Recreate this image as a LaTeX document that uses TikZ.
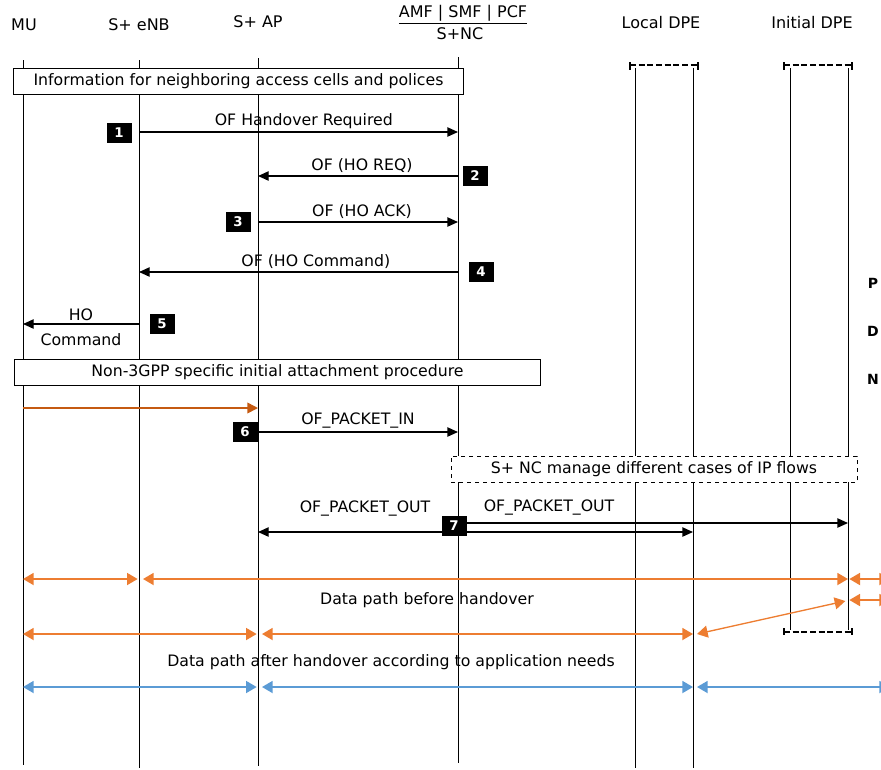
\documentclass[tikz,border=0pt]{standalone}
\usepackage{fontspec}
\setmainfont{DejaVu Sans}
\usetikzlibrary{arrows.meta,positioning}
\definecolor{dataorange}{RGB}{237,125,49}
\definecolor{attachorange}{RGB}{197,90,17}
\definecolor{datablue}{RGB}{91,155,213}

\begin{document}
\begin{tikzpicture}[x=0.75pt,y=-0.75pt,
  every node/.style={font=\fontsize{11.8}{13}\selectfont,inner sep=2pt},
  head/.style={font=\fontsize{12}{14}\selectfont},
  life/.style={black,line width=0.75pt},
  msg/.style={black,line width=1pt,-{Triangle[length=8pt,width=7pt]}},
  msgboth/.style={msg,{Triangle[length=8pt,width=7pt]}-{Triangle[length=8pt,width=7pt]}},
  stepnum/.style={fill=black,text=white,font=\bfseries\fontsize{10}{11}\selectfont,
    minimum width=18.75pt,minimum height=15pt,inner sep=0pt},
  phase/.style={draw,fill=white,line width=0.75pt,minimum height=19.5pt,inner sep=0pt},
  datapath/.style={line width=1.3pt,{Triangle[length=8pt,width=9pt]}-{Triangle[length=8pt,width=9pt]}},
  dpecap/.style={line width=1.6pt,dash pattern=on 4.5pt off 2pt},
  pdn/.style={font=\bfseries\fontsize{10.5}{12}\selectfont},
]
\useasboundingbox (0,0) rectangle (881,769);

% lifeline heads
\coordinate (mu) at (23,60);
\coordinate (enb) at (139,60);
\coordinate (ap) at (258,58);
\coordinate (nc) at (458,57);
\coordinate (ldpeL) at (635,68);
\coordinate (ldpeR) at (693,68);
\coordinate (idpeL) at (790,68);
\coordinate (idpeR) at (848,68);
\coordinate (offpage) at (890,0);

\node[head] (muname) at (24,25) {MU};
\node[head] (enbname) at (139,25) {S+ eNB};
\node[head] (apname) at (258,22) {S+ AP};
\node[head] (ncfun) at (463,15) {\underline{AMF | SMF | PCF}};
\node[head] (ncname) at (460,34) {S+NC};
\node[head] (ldpename) at (661,23) {Local DPE};
\node[head] (idpename) at (812,23) {Initial DPE};

% lifelines
\draw[life] (mu) -- (mu |- 0,765);
\draw[life] (enb) -- (enb |- 0,768);
\draw[life] (ap) -- (ap |- 0,766);
\draw[life] (nc) -- (nc |- 0,763);
\draw[life] (ldpeL) -- (ldpeL |- 0,768);
\draw[life] (ldpeR) -- (ldpeR |- 0,768);
\draw[life] (idpeL) -- (idpeL |- 0,630);
\draw[life] (idpeR) -- (idpeR |- 0,630);

% DPE caps
\draw[dpecap] (630,65) -- (698,65);
\draw[line width=1pt] (630,62) -- (630,70) (698,62) -- (698,70);
\draw[dpecap] (784,65) -- (852,65);
\draw[line width=1pt] (784,62) -- (784,70) (852,62) -- (852,70);
\draw[dpecap] (784,632) -- (852,632);
\draw[line width=1pt] (784,628) -- (784,635) (852,628) -- (852,635);

\node[phase,minimum width=338pt] (info) at (238.5,81) {Information for neighboring access cells and polices};

% handover signalling
\draw[msg] (enb |- 0,132) -- node[above,xshift=4pt] {OF Handover Required} (nc |- 0,132);
\draw[msg] (nc |- 0,176) -- node[above,xshift=3pt] {OF (HO REQ)} (ap |- 0,176);
\draw[msg] (ap |- 0,222) -- node[above,xshift=3pt] {OF (HO ACK)} (nc |- 0,222);
\draw[msg] (nc |- 0,272) -- node[above,xshift=13pt] {OF (HO Command)} (enb |- 0,272);
\draw[msg] (enb |- 0,324) -- node[above] {HO} node[below=5pt] {Command} (mu |- 0,324);

\node[stepnum] (s1) at (119,133) {1};
\node[stepnum] (s2) at (475,176) {2};
\node[stepnum] (s3) at (238,222) {3};
\node[stepnum] (s4) at (481,272) {4};
\node[stepnum] (s5) at (162,324) {5};

\node[phase,minimum width=395pt] (attach) at (277.5,372) {Non-3GPP specific initial attachment procedure};

\draw[attachorange,line width=1.2pt,-{Triangle[length=8pt,width=8pt]}] (mu |- 0,408) -- (ap |- 0,408);
\draw[msg] (ap |- 0,432) -- node[above] {OF\_PACKET\_IN} (nc |- 0,432);
\node[stepnum] (s6) at (245,432) {6};

\node[phase,dashed,minimum width=304.5pt] (flows) at (654,469) {S+ NC manage different cases of IP flows};

% packet out
\draw[msgboth] (ap |- 0,532) -- (ldpeR |- 0,532);
\draw[msg] (nc |- 0,523) -- (idpeR |- 0,523);
\node (pktoutL) at (365,509) {OF\_PACKET\_OUT};
\node (pktoutR) at (549,508) {OF\_PACKET\_OUT};
\node[stepnum] (s7) at (454,526) {7};

% data paths
\draw[datapath,dataorange] (mu |- 0,579) -- ([xshift=-1pt]enb |- 0,579);
\draw[datapath,dataorange] ([xshift=3pt]enb |- 0,579) -- (idpeR |- 0,579);
\draw[datapath,dataorange] ([xshift=1pt]idpeR |- 0,579) -- (offpage |- 0,579);
\draw[datapath,dataorange] ([xshift=1pt]idpeR |- 0,600) -- (offpage |- 0,600);
\draw[datapath,dataorange,line width=1pt] ([xshift=3pt]ldpeR |- 0,634) -- ([xshift=-2pt]idpeR |- 0,601);
\node (before) at (427,600) {Data path before handover};
\draw[datapath,dataorange] (mu |- 0,634) -- ([xshift=-1pt]ap |- 0,634);
\draw[datapath,dataorange] ([xshift=3pt]ap |- 0,634) -- (ldpeR |- 0,634);
\node (after) at (391,662) {Data path after handover according to application needs};
\draw[datapath,datablue] (mu |- 0,687) -- ([xshift=-1pt]ap |- 0,687);
\draw[datapath,datablue] ([xshift=3pt]ap |- 0,687) -- (ldpeR |- 0,687);
\draw[datapath,datablue] ([xshift=3pt]ldpeR |- 0,687) -- (offpage |- 0,687);

\node[pdn] (pdnP) at (873,283) {P};
\node[pdn] (pdnD) at (873,331) {D};
\node[pdn] (pdnN) at (873,379) {N};
\end{tikzpicture}
\end{document}
